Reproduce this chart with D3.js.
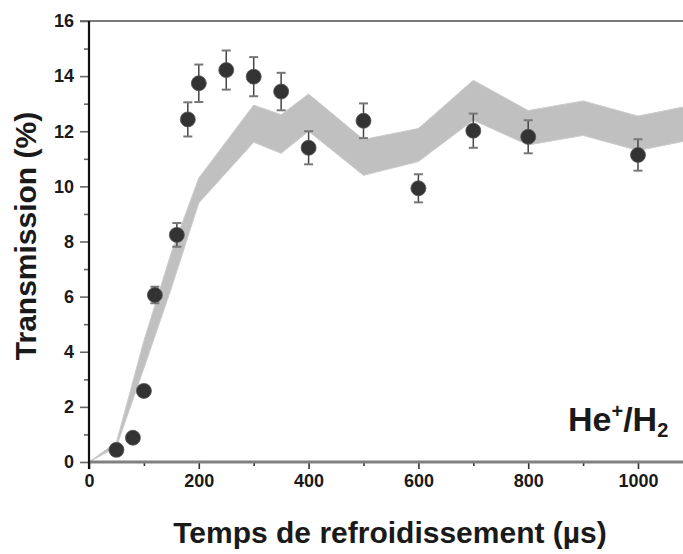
<!DOCTYPE html>
<html>
<head>
<meta charset="utf-8">
<script src="https://cdn.jsdelivr.net/npm/d3@7"></script>
<style>
  body { margin: 0; background: #fff; }
  text { font-family: "Liberation Sans", Arial, sans-serif; font-weight: bold; fill: #1a1a1a; }
</style>
</head>
<body>
<div id="graph"></div>
<script>
"use strict";

// measured points (time in µs, transmission in %, error half-width)
let timeUs = [50, 80, 100, 120, 160, 180, 200, 250, 300, 350, 400, 500, 600, 700, 800, 1000];
let transmission = [0.44, 0.88, 2.58, 6.06, 8.24, 12.43, 13.74, 14.22, 13.98, 13.44, 11.4, 12.38, 9.93, 12.02, 11.8, 11.14];
let errors = [0.1, 0.1, 0.15, 0.3, 0.43, 0.62, 0.68, 0.71, 0.71, 0.68, 0.6, 0.63, 0.51, 0.62, 0.6, 0.57];

// simulated band (grey)
let bandTime = [0, 50, 100, 150, 200, 300, 350, 400, 500, 600, 700, 800, 900, 1000, 1100];
let bandHigh = [0, 0.72, 4.4, 7.6, 10.3, 12.95, 12.6, 13.35, 11.7, 12.1, 13.85, 12.75, 13.1, 12.55, 12.95];
let bandLow = [0, 0.55, 3.4, 6.3, 9.4, 11.6, 11.2, 12.0, 10.4, 10.9, 12.4, 11.5, 11.85, 11.3, 11.7];

let xMajor = [0, 200, 400, 600, 800, 1000];
let xMinor = [100, 300, 500, 700, 900, 1100];
let yMajor = [0, 2, 4, 6, 8, 10, 12, 14, 16];
let yMinor = [1, 3, 5, 7, 9, 11, 13, 15];

let translateStr = (x, y) => 'translate(' + x + ', ' + y + ')';

let W = 683;
let H = 554;
let margin = { top: 21, left: 89 };
let height = 441;

let x = d3.scaleLinear()
  .domain([0, 1100])
  .range([margin.left, margin.left + 0.549 * 1100]);

let y = d3.scaleLinear()
  .domain([0, 16])
  .range([margin.top + height, margin.top]);

let svg = d3.select('#graph')
  .append('svg')
  .attr('width', W)
  .attr('height', H);

// band
let area = d3.area()
  .x(d => x(d.t))
  .y0(d => y(d.lo))
  .y1(d => y(d.hi));

let bandData = bandTime.map((t, i) => ({ t: t, lo: bandLow[i], hi: bandHigh[i] }));

svg.append('path')
  .datum(bandData)
  .attr('d', area)
  .attr('fill', '#c0c0c0')
  .attr('stroke', '#cccccc')
  .attr('stroke-width', 1);

// frame top line
svg.append('line')
  .attr('x1', x(0) - 9).attr('x2', W)
  .attr('y1', y(16)).attr('y2', y(16))
  .attr('stroke', '#7a7a7a')
  .attr('stroke-width', 2);

// x axis
let styleAxis = (g, color) => {
  g.selectAll('.tick line').attr('stroke', color).attr('stroke-width', 1.6);
  g.selectAll('.tick text').attr('font-size', 18);
};

let xAxisMinor = svg.append('g')
  .attr('transform', translateStr(0, y(0)))
  .call(d3.axisBottom(x).tickValues(xMinor).tickSize(4).tickFormat(''));
xAxisMinor.select('.domain').remove();
styleAxis(xAxisMinor, '#333');

let xAxis = svg.append('g')
  .attr('transform', translateStr(0, y(0)))
  .call(d3.axisBottom(x).tickValues(xMajor).tickSize(7).tickPadding(5).tickFormat(d3.format('d')));
xAxis.select('.domain').remove();
styleAxis(xAxis, '#333');

svg.append('line')
  .attr('x1', x(0)).attr('x2', W)
  .attr('y1', y(0)).attr('y2', y(0))
  .attr('stroke', '#808080')
  .attr('stroke-width', 3);

// y axis
let yAxisMinor = svg.append('g')
  .attr('transform', translateStr(x(0), 0))
  .call(d3.axisLeft(y).tickValues(yMinor).tickSize(5).tickFormat(''));
yAxisMinor.select('.domain').remove();
styleAxis(yAxisMinor, '#666');

let yAxis = svg.append('g')
  .attr('transform', translateStr(x(0), 0))
  .call(d3.axisLeft(y).tickValues(yMajor).tickSize(9).tickPadding(6));
yAxis.select('.domain').remove();
styleAxis(yAxis, '#666');

svg.append('line')
  .attr('x1', x(0)).attr('x2', x(0))
  .attr('y1', y(16)).attr('y2', y(0) + 7)
  .attr('stroke', '#111')
  .attr('stroke-width', 2.2);

// error bars
let pts = timeUs.map((t, i) => ({ t: t, v: transmission[i], e: errors[i] }));

let bars = svg.append('g').selectAll('g')
  .data(pts)
  .join('g');

bars.append('line')
  .attr('x1', d => x(d.t)).attr('x2', d => x(d.t))
  .attr('y1', d => y(d.v + d.e)).attr('y2', d => y(d.v - d.e))
  .attr('stroke', '#444')
  .attr('stroke-width', 1.5);

bars.selectAll('.cap')
  .data(d => [d.v + d.e, d.v - d.e].map(v => ({ t: d.t, v: v })))
  .join('line')
  .attr('class', 'cap')
  .attr('x1', d => x(d.t) - 4.5).attr('x2', d => x(d.t) + 4.5)
  .attr('y1', d => y(d.v)).attr('y2', d => y(d.v))
  .attr('stroke', '#777')
  .attr('stroke-width', 2);

svg.append('g').selectAll('circle')
  .data(pts)
  .join('circle')
  .attr('cx', d => x(d.t))
  .attr('cy', d => y(d.v))
  .attr('r', 7.5)
  .attr('fill', '#333')
  .attr('stroke', '#555')
  .attr('stroke-width', 0.8);

// titles
svg.append('text')
  .attr('x', 390)
  .attr('y', 543)
  .attr('text-anchor', 'middle')
  .attr('font-size', 30)
  .text('Temps de refroidissement (µs)');

svg.append('text')
  .attr('transform', translateStr(36, 236) + ' rotate(-90)')
  .attr('text-anchor', 'middle')
  .attr('font-size', 30)
  .text('Transmission (%)');

let label = svg.append('text')
  .attr('x', 568)
  .attr('y', 431)
  .attr('font-size', 34);
label.append('tspan').text('He');
label.append('tspan').attr('font-size', 20).attr('dy', -13).text('+');
label.append('tspan').attr('dy', 13).text('/H');
label.append('tspan').attr('font-size', 20).attr('dy', 6).text('2');
</script>
</body>
</html>
